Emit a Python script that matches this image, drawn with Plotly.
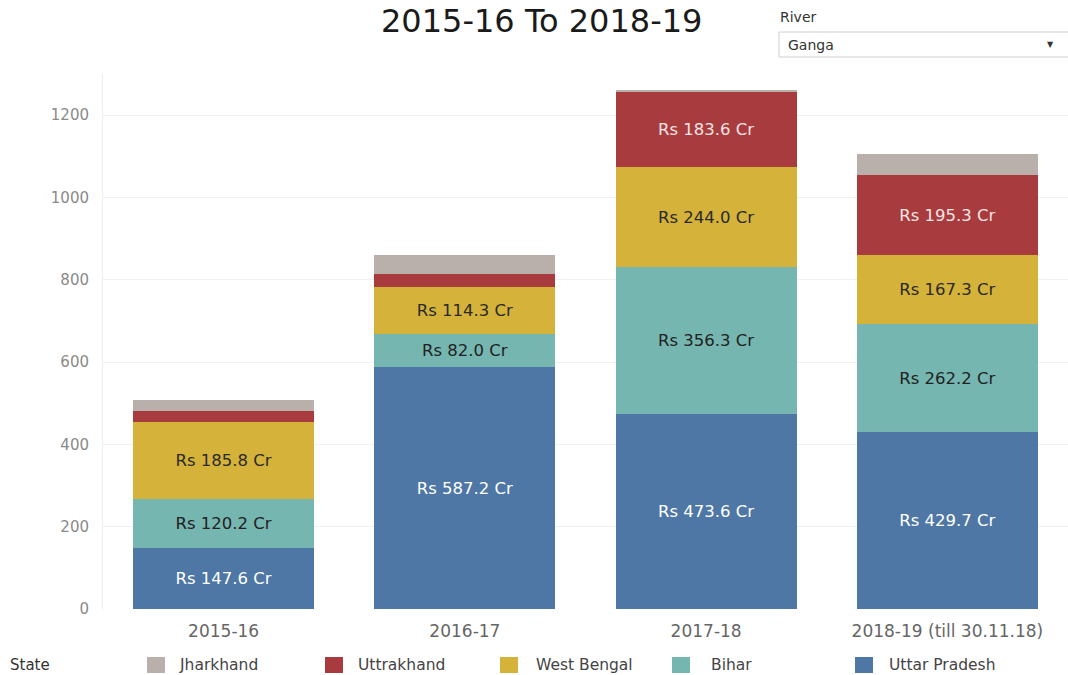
import plotly.graph_objects as go

categories = ["2015-16", "2016-17", "2017-18", "2018-19 (till 30.11.18)"]
states = ["Uttar Pradesh", "Bihar", "West Bengal", "Uttrakhand", "Jharkhand"]
uttar_pradesh = [147.6, 587.2, 473.6, 429.7]
bihar = [120.2, 82.0, 356.3, 262.2]
west_bengal = [185.8, 114.3, 244.0, 167.3]
uttrakhand = [27.0, 30.0, 183.6, 195.3]
jharkhand = [27.0, 46.0, 2.0, 51.0]
labelled = {
    "Uttar Pradesh": [True, True, True, True],
    "Bihar": [True, True, True, True],
    "West Bengal": [True, True, True, True],
    "Uttrakhand": [False, False, True, True],
    "Jharkhand": [False, False, False, False],
}
y_ticks = [0, 200, 400, 600, 800, 1000, 1200]
legend_order = ["Jharkhand", "Uttrakhand", "West Bengal", "Bihar", "Uttar Pradesh"]

values = {
    "Uttar Pradesh": uttar_pradesh,
    "Bihar": bihar,
    "West Bengal": west_bengal,
    "Uttrakhand": uttrakhand,
    "Jharkhand": jharkhand,
}
colors = {
    "Uttar Pradesh": "#4e77a5",
    "Bihar": "#76b6b0",
    "West Bengal": "#d5b23a",
    "Uttrakhand": "#a83b3e",
    "Jharkhand": "#b9b0ab",
}
text_colors = {
    "Uttar Pradesh": "#ffffff",
    "Bihar": "#222222",
    "West Bengal": "#2a2a2a",
    "Uttrakhand": "#f6e4e4",
    "Jharkhand": "#333333",
}

FONT = "DejaVu Sans"
W, H = 1068, 675
ML, MR, MT, MB = 103, 0, 74, 66

fig = go.Figure()
for s in states:
    vals = values[s]
    txt = ["Rs %.1f Cr" % v if show else "" for v, show in zip(vals, labelled[s])]
    fig.add_trace(go.Bar(
        name=s, x=categories, y=vals, text=txt,
        textposition="inside", insidetextanchor="middle", textangle=0,
        textfont=dict(family=FONT, size=16.5, color=text_colors[s]),
        marker=dict(color=colors[s], line=dict(width=0)),
        showlegend=False, hoverinfo="skip",
    ))

def px_x(p):
    return (p - ML) / (W - ML - MR)

def px_y(p):
    return (H - MB - p) / (H - MT - MB)

shapes = []
annotations = []

# title
annotations.append(dict(text="2015-16 To 2018-19", x=px_x(541), y=px_y(21), xref="paper", yref="paper",
                        xanchor="center", yanchor="middle", showarrow=False,
                        font=dict(family=FONT, size=32, color="#1a1a1a")))
# River filter
annotations.append(dict(text="River", x=px_x(778), y=px_y(17), xref="paper", yref="paper",
                        xanchor="left", yanchor="middle", showarrow=False,
                        font=dict(family=FONT, size=14, color="#333333")))
shapes.append(dict(type="rect", xref="paper", yref="paper", x0=px_x(779), x1=px_x(1075),
                   y0=px_y(57), y1=px_y(32), line=dict(color="#cfcfcf", width=1), fillcolor="white"))
annotations.append(dict(text="Ganga", x=px_x(786), y=px_y(45), xref="paper", yref="paper",
                        xanchor="left", yanchor="middle", showarrow=False,
                        font=dict(family=FONT, size=14, color="#333333")))
annotations.append(dict(text="▼", x=px_x(1050), y=px_y(44), xref="paper", yref="paper",
                        xanchor="center", yanchor="middle", showarrow=False,
                        font=dict(family=FONT, size=8, color="#333333")))

# legend
annotations.append(dict(text="State", x=px_x(8), y=px_y(665), xref="paper", yref="paper",
                        xanchor="left", yanchor="middle", showarrow=False,
                        font=dict(family=FONT, size=15, color="#333333")))
sw_x = [147, 325, 500, 672, 855]
tx_x = [177, 356, 534, 709, 887]
for s, sx, tx in zip(legend_order, sw_x, tx_x):
    shapes.append(dict(type="rect", xref="paper", yref="paper", x0=px_x(sx), x1=px_x(sx + 18),
                       y0=px_y(673), y1=px_y(657), line=dict(width=0), fillcolor=colors[s]))
    annotations.append(dict(text=s, x=px_x(tx), y=px_y(665), xref="paper", yref="paper",
                            xanchor="left", yanchor="middle", showarrow=False,
                            font=dict(family=FONT, size=15.5, color="#444444")))

fig.update_layout(
    barmode="stack", bargap=0.25,
    width=W, height=H,
    margin=dict(l=ML, r=MR, t=MT, b=MB, pad=0),
    paper_bgcolor="white", plot_bgcolor="white",
    font=dict(family=FONT),
    shapes=shapes, annotations=annotations,
    xaxis=dict(showgrid=False, showline=False, ticks="", tickfont=dict(family=FONT, size=17, color="#666666"),
               ticklabelstandoff=10, fixedrange=True),
    yaxis=dict(range=[0, 1300], tickvals=y_ticks, showgrid=True, gridcolor="#f0f0f0", gridwidth=1,
               zeroline=False, showline=True, linecolor="#eeeeee",
               tickfont=dict(family=FONT, size=15, color="#8a8a8a"), ticklabelstandoff=10, fixedrange=True),
    uniformtext=dict(mode=False),
)

fig.write_html("out.html", config={"displayModeBar": False},
               post_script="document.body.style.margin='0';document.body.style.overflow='hidden';")
